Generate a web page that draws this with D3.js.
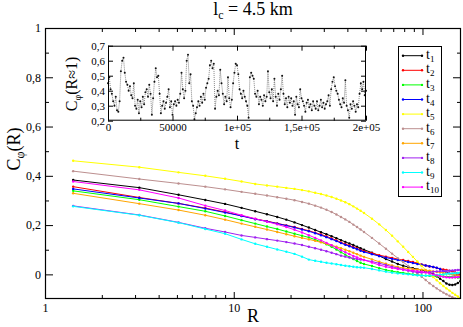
<!DOCTYPE html>
<html><head><meta charset="utf-8">
<script src="https://cdn.jsdelivr.net/npm/d3@7"></script>
<style>body{margin:0;background:#fff}svg{display:block}text{font-family:"Liberation Serif","Tinos","Times New Roman","Nimbus Roman","DejaVu Serif",serif;fill:#000}</style>
</head><body><svg id="c" width="463" height="327"></svg>
<script>
// ---------- data ----------
const R = [1.41,3.16,5.10,7.07,9,11,13,15,17,19,21,23,25,27,29,31,33,35,37,39,41,43,45,47,49,54,59,64,69,74,79,84,89,94,99,104,109,114,119,124,129,134,139,144,149,154,159];
const t1 = [0.383,0.352,0.323,0.302,0.286,0.270,0.256,0.244,0.233,0.222,0.211,0.200,0.190,0.180,0.171,0.163,0.155,0.147,0.139,0.132,0.125,0.119,0.112,0.106,0.100,0.088,0.075,0.062,0.052,0.042,0.035,0.030,0.025,0.021,0.017,0.013,0.008,0.002,-0.008,-0.018,-0.027,-0.037,-0.042,-0.043,-0.041,-0.035,-0.027];
const t2 = [0.356,0.312,0.288,0.269,0.253,0.238,0.225,0.216,0.207,0.199,0.192,0.184,0.177,0.169,0.162,0.154,0.146,0.138,0.130,0.123,0.117,0.111,0.105,0.099,0.094,0.086,0.078,0.072,0.067,0.062,0.058,0.054,0.050,0.046,0.040,0.036,0.032,0.030,0.026,0.022,0.020,0.018,0.015,0.012,0.008,0.004,0.000];
const t3 = [0.339,0.303,0.275,0.256,0.237,0.220,0.206,0.194,0.184,0.174,0.165,0.157,0.150,0.141,0.132,0.122,0.112,0.101,0.090,0.080,0.070,0.062,0.054,0.047,0.042,0.034,0.025,0.018,0.013,0.009,0.006,0.003,0.000,-0.003,-0.004,-0.005,-0.006,-0.007,-0.007,-0.007,-0.008,-0.009,-0.010,-0.011,-0.012,-0.013,-0.013];
const t4 = [0.347,0.310,0.288,0.267,0.251,0.237,0.224,0.215,0.206,0.198,0.190,0.182,0.175,0.167,0.159,0.151,0.143,0.135,0.127,0.120,0.114,0.108,0.102,0.096,0.091,0.082,0.074,0.068,0.063,0.058,0.054,0.050,0.046,0.042,0.039,0.036,0.033,0.030,0.027,0.022,0.014,0.008,0.004,0.001,-0.002,-0.004,-0.006];
const t5 = [0.461,0.435,0.414,0.400,0.388,0.377,0.367,0.361,0.356,0.351,0.347,0.342,0.337,0.331,0.326,0.320,0.314,0.307,0.300,0.293,0.285,0.276,0.267,0.258,0.249,0.226,0.203,0.180,0.157,0.134,0.112,0.091,0.071,0.052,0.034,0.018,0.003,-0.011,-0.024,-0.036,-0.047,-0.057,-0.066,-0.075,-0.083,-0.090,-0.097];
const t6 = [0.419,0.387,0.369,0.356,0.345,0.335,0.327,0.320,0.313,0.307,0.301,0.294,0.287,0.279,0.271,0.262,0.253,0.243,0.233,0.223,0.213,0.202,0.192,0.182,0.172,0.148,0.125,0.104,0.084,0.066,0.050,0.034,0.019,0.004,-0.010,-0.023,-0.036,-0.047,-0.057,-0.066,-0.074,-0.081,-0.087,-0.093,-0.098,-0.103,-0.108];
const t7 = [0.329,0.287,0.261,0.240,0.222,0.206,0.193,0.182,0.172,0.163,0.155,0.148,0.142,0.136,0.130,0.124,0.118,0.112,0.106,0.100,0.094,0.088,0.082,0.076,0.071,0.061,0.051,0.043,0.036,0.030,0.026,0.023,0.021,0.020,0.019,0.017,0.015,0.012,0.010,0.008,0.006,0.004,0.002,0.000,-0.002,-0.004,-0.006];
const t8 = [0.278,0.241,0.211,0.187,0.172,0.158,0.150,0.143,0.137,0.131,0.125,0.119,0.112,0.106,0.100,0.094,0.088,0.082,0.076,0.072,0.068,0.065,0.062,0.060,0.058,0.052,0.045,0.038,0.031,0.025,0.020,0.015,0.011,0.008,0.007,0.008,0.009,0.011,0.012,0.013,0.013,0.014,0.015,0.016,0.017,0.018,0.018];
const t9 = [0.276,0.240,0.210,0.184,0.165,0.142,0.124,0.112,0.101,0.092,0.083,0.072,0.060,0.055,0.051,0.047,0.044,0.041,0.038,0.035,0.033,0.031,0.029,0.028,0.027,0.022,0.016,0.011,0.007,0.004,0.002,0.000,-0.002,-0.004,-0.005,-0.005,-0.004,-0.003,-0.002,-0.001,0.000,0.002,0.003,0.004,0.005,0.006,0.007];
const t10 = [0.377,0.343,0.310,0.279,0.259,0.240,0.226,0.214,0.203,0.192,0.181,0.170,0.159,0.148,0.138,0.128,0.118,0.108,0.098,0.090,0.082,0.075,0.069,0.063,0.058,0.048,0.038,0.031,0.026,0.022,0.019,0.017,0.015,0.013,0.011,0.008,0.004,0.000,-0.004,-0.007,-0.010,-0.012,-0.013,-0.013,-0.012,-0.011,-0.010];
const seriesNames = ["1","2","3","4","5","6","7","8","9","10"];
const seriesColors = ["#000000","#ff0000","#00ff00","#0000ff","#ffff00","#bc8f8f","#ffa500","#a020f0","#00ffff","#ff00ff"];

// inset: C_phi(R~1) vs t, one value every 1000
const insetStep = 1000;
const insetC = [
0.45,0.49,0.41,0.38,0.33,0.30,0.36,0.27,0.26,0.33,
0.53,0.60,0.62,0.52,0.46,0.44,0.40,0.43,0.37,0.35,
0.45,0.30,0.28,0.34,0.25,0.33,0.29,0.36,0.31,0.39,
0.41,0.36,0.44,0.38,0.24,0.35,0.46,0.55,0.49,0.50,
0.38,0.25,0.30,0.33,0.28,0.32,0.36,0.41,0.29,0.33,
0.24,0.31,0.33,0.30,0.34,0.32,0.38,0.52,0.41,0.35,
0.40,0.60,0.64,0.45,0.51,0.33,0.30,0.21,0.25,0.29,
0.33,0.30,0.36,0.32,0.38,0.34,0.42,0.45,0.48,0.57,
0.60,0.55,0.58,0.28,0.36,0.40,0.37,0.54,0.45,0.38,
0.31,0.36,0.33,0.49,0.35,0.29,0.34,0.45,0.52,0.58,
0.57,0.51,0.41,0.38,0.35,0.40,0.36,0.33,0.30,0.22,
0.49,0.52,0.50,0.48,0.38,0.36,0.40,0.31,0.36,0.34,
0.30,0.37,0.33,0.36,0.53,0.39,0.35,0.41,0.33,0.48,
0.36,0.30,0.38,0.34,0.41,0.50,0.38,0.31,0.35,0.29,
0.36,0.32,0.35,0.30,0.33,0.24,0.36,0.31,0.29,0.41,
0.35,0.33,0.30,0.26,0.32,0.34,0.29,0.31,0.27,0.33,
0.30,0.28,0.33,0.27,0.30,0.34,0.29,0.32,0.28,0.31,
0.33,0.37,0.30,0.41,0.46,0.49,0.43,0.40,0.38,0.34,
0.31,0.29,0.35,0.32,0.47,0.30,0.27,0.22,0.31,0.28,
0.33,0.30,0.26,0.31,0.29,0.38,0.45,0.41,0.46,0.37,
0.40];

const mainXTicks = [1,10,100], mainXLabels = ["1","10","100"];
const mainXMinor = [2,3,4,5,6,7,8,9,20,30,40,50,60,70,80,90];
const mainYTicks = [0,0.2,0.4,0.6,0.8,1], mainYLabels = ["0","0,2","0,4","0,6","0,8","1"];
const mainYMinor = [0.1,0.3,0.5,0.7,0.9];
const insetXTicks = [0,50000,100000,150000,200000], insetXLabels = ["0","50000","1e+05","1,5e+05","2e+05"];
const insetXMinor = [25000,75000,125000,175000];
const insetYTicks = [0.2,0.3,0.4,0.5,0.6,0.7], insetYLabels = ["0,2","0,3","0,4","0,5","0,6","0,7"];

// ---------- drawing ----------
const FONT = '"Liberation Serif","Tinos","Times New Roman","Nimbus Roman","DejaVu Serif",serif';
const svg = d3.select("#c");
const L=45, Rt=461, T=28, B=299;
const x = d3.scaleLog().domain([1,160]).range([L,Rt]);
const y = d3.scaleLinear().domain([-0.1,1]).range([B,T]);

function ax(gen, scale, vals, size, labels, pad, tr, fs){
  const a = gen(scale).tickValues(vals).tickSizeInner(size).tickSizeOuter(0).tickPadding(pad)
    .tickFormat(labels ? (d,i)=>labels[i] : ()=> "");
  const g = svg.append("g").attr("transform", tr).call(a).attr("font-family", FONT).attr("font-size", fs||12);
  g.select(".domain").remove();
  g.selectAll("line").attr("stroke","#000");
  g.selectAll("text").attr("fill","#000").attr("font-family", FONT);
  return g;
}

// main ticks
ax(d3.axisBottom, x, mainXTicks, -7, mainXLabels, 4, `translate(0,${B})`);
ax(d3.axisBottom, x, mainXMinor, -4, null, 4, `translate(0,${B})`);
ax(d3.axisTop, x, mainXTicks, -7, null, 4, `translate(0,${T})`);
ax(d3.axisTop, x, mainXMinor, -4, null, 4, `translate(0,${T})`);
ax(d3.axisLeft, y, mainYTicks, -8, mainYLabels, 4, `translate(${L},0)`);
ax(d3.axisLeft, y, mainYMinor, -4, null, 4, `translate(${L},0)`);
ax(d3.axisRight, y, mainYTicks, -8, null, 4, `translate(${Rt},0)`);
ax(d3.axisRight, y, mainYMinor, -4, null, 4, `translate(${Rt},0)`);

svg.append("clipPath").attr("id","clipMain").append("rect").attr("x",L).attr("y",T).attr("width",Rt-L).attr("height",B-T);

const allSeries = [t1,t2,t3,t4,t5,t6,t7,t8,t9,t10];
const line = d3.line().x((d,i)=>x(R[i])).y(d=>y(d));
const gs = svg.append("g").attr("clip-path","url(#clipMain)");
allSeries.forEach((s,k)=>{
  gs.append("path").attr("d", line(s)).attr("fill","none").attr("stroke",seriesColors[k]).attr("stroke-width",1);
  gs.selectAll(null).data(s).enter().append("circle")
    .attr("cx",(d,i)=>x(R[i])).attr("cy",d=>y(d)).attr("r",1.2).attr("fill",seriesColors[k]);
});

svg.append("rect").attr("x",L+0.5).attr("y",T+0.5).attr("width",Rt-L-1).attr("height",B-T-1)
  .attr("fill","none").attr("stroke","#000").attr("stroke-width",1.2);

// title & axis labels
const title = svg.append("text").attr("x",253).attr("y",15).attr("text-anchor","middle").attr("font-size",18).attr("font-family",FONT);
title.append("tspan").text("l");
title.append("tspan").attr("dy",4).attr("font-size",12).text("c");
title.append("tspan").attr("dy",-4).text(" = 4.5 km");

svg.append("text").attr("x",253).attr("y",322).attr("text-anchor","middle").attr("font-size",18).attr("font-family",FONT).text("R");

const yl = svg.append("text").attr("transform","translate(20,149) rotate(-90)").attr("text-anchor","middle").attr("font-size",18).attr("font-family",FONT);
yl.append("tspan").text("C");
yl.append("tspan").attr("dy",4).attr("font-size",12).text("φ");
yl.append("tspan").attr("dy",-4).text("(R)");

// legend
const lg = svg.append("g").attr("font-family",FONT);
lg.append("rect").attr("x",398.5).attr("y",46.5).attr("width",43).attr("height",150).attr("fill","#fff").attr("stroke","#000").attr("stroke-width",1);
seriesNames.forEach((n,k)=>{
  const yy = 55.7 + k*14.6;
  lg.append("line").attr("x1",403).attr("x2",422).attr("y1",yy).attr("y2",yy).attr("stroke",seriesColors[k]).attr("stroke-width",1);
  [403,422].forEach(cx=>lg.append("circle").attr("cx",cx).attr("cy",yy).attr("r",1.2).attr("fill",seriesColors[k]));
  const tx = lg.append("text").attr("x",426).attr("y",yy+3).attr("font-size",14);
  tx.append("tspan").text("t");
  tx.append("tspan").attr("dy",3).attr("font-size",9).text(n);
});

// inset
const iL=108, iR=366, iT=45.7, iB=120.7;
const xi = d3.scaleLinear().domain([0,200000]).range([iL,iR]);
const yi = d3.scaleLinear().domain([0.2,0.7]).range([iB,iT]);
svg.append("rect").attr("x",iL).attr("y",iT).attr("width",iR-iL).attr("height",iB-iT).attr("fill","#fff");
ax(d3.axisBottom, xi, insetXTicks, -5, insetXLabels, 3, `translate(0,${iB})`, 11);
ax(d3.axisBottom, xi, insetXMinor, -3, null, 3, `translate(0,${iB})`);
ax(d3.axisTop, xi, insetXTicks, -5, null, 3, `translate(0,${iT})`);
ax(d3.axisTop, xi, insetXMinor, -3, null, 3, `translate(0,${iT})`);
ax(d3.axisLeft, yi, insetYTicks, -5, insetYLabels, 3, `translate(${iL},0)`, 11);
ax(d3.axisRight, yi, insetYTicks, -5, null, 3, `translate(${iR},0)`);
const iline = d3.line().x((d,i)=>xi(i*insetStep)).y(d=>yi(d));
svg.append("path").attr("d", iline(insetC)).attr("fill","none").attr("stroke","#555").attr("stroke-width",0.7).attr("stroke-dasharray","1,1");
svg.selectAll(null).data(insetC).enter().append("circle")
  .attr("cx",(d,i)=>xi(i*insetStep)).attr("cy",d=>yi(d)).attr("r",1).attr("fill","#111");
svg.append("rect").attr("x",iL+0.5).attr("y",iT+0.5).attr("width",iR-iL-1).attr("height",iB-iT-1)
  .attr("fill","none").attr("stroke","#000").attr("stroke-width",1);
svg.append("text").attr("x",237).attr("y",149).attr("text-anchor","middle").attr("font-size",16).attr("font-family",FONT).text("t");
const il = svg.append("text").attr("transform","translate(77,84) rotate(-90)").attr("text-anchor","middle").attr("font-size",16).attr("font-family",FONT);
il.append("tspan").text("C");
il.append("tspan").attr("dy",4).attr("font-size",10).text("φ");
il.append("tspan").attr("dy",-4).text("(R≈1)");
</script></body></html>
